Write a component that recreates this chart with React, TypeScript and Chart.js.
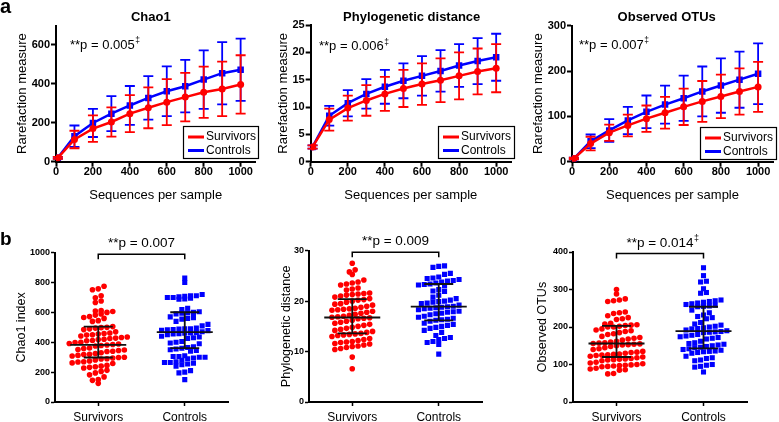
import React, { useEffect, useRef } from 'react';
import { Chart, registerables } from 'chart.js';

Chart.register(...registerables);

const FAMILY = 'Arial, "Liberation Sans", Helvetica, sans-serif';
const RED = '#ff0000';
const BLUE = '#0000ff';

// ---------------- Panel a: rarefaction curves ----------------
const seqPerSample = [10, 100, 200, 300, 400, 500, 600, 700, 800, 900, 1000];
const seriesNames = ['Survivors', 'Controls'];

const chao1SurvMean = [20, 114, 170, 204, 247, 277, 306, 332, 357, 374, 397];
const chao1SurvSD = [5, 45, 68, 75, 95, 105, 118, 125, 132, 140, 150];
const chao1CtrlMean = [20, 131, 199, 247, 289, 328, 362, 388, 422, 455, 473];
const chao1CtrlSD = [5, 55, 72, 90, 100, 112, 128, 135, 150, 160, 160];

const pdSurvMean = [2.7, 7.7, 9.8, 11.2, 12.4, 13.4, 14.2, 14.9, 15.7, 16.5, 17.1];
const pdSurvSD = [0.3, 2.0, 2.3, 2.8, 3.1, 3.4, 3.8, 4.0, 4.3, 4.2, 4.4];
const pdCtrlMean = [2.7, 8.4, 10.7, 12.4, 13.7, 14.8, 15.7, 16.6, 17.6, 18.4, 19.1];
const pdCtrlSD = [0.3, 1.8, 2.4, 2.7, 3.1, 3.2, 3.6, 3.8, 3.9, 4.2, 4.3];

const otuSurvMean = [7, 40, 64, 80, 95, 108, 121, 133, 144, 155, 165];
const otuSurvSD = [2, 15, 18, 24, 29, 35, 40, 45, 48, 51, 55];
const otuCtrlMean = [7, 45, 69, 91, 110, 126, 140, 155, 168, 181, 194];
const otuCtrlSD = [2, 15, 25, 30, 36, 42, 50, 55, 60, 62, 67];

// ---------------- Panel b: individual values ----------------
const groupNames = ['Survivors', 'Controls'];

const chao1Survivors = [
  775, 758, 752, 712, 698, 676, 666,
  612, 610, 606, 600,
  590, 582, 572, 566, 560, 545, 540,
  505, 500, 498, 495, 490, 485,
  470, 462, 458, 455, 450, 448, 442,
  435, 432, 428, 425, 420, 418, 412, 410,
  400, 398, 392, 388, 385, 382, 378, 375,
  362, 358, 352, 348, 345, 340, 338,
  330, 325, 320, 318, 312, 308,
  300, 298, 295, 290, 288, 282,
  275, 270, 268, 262, 258,
  245, 240, 236, 232, 228,
  212, 205, 195,
  182, 168,
  150, 145, 125,
];
const chao1Controls = [
  830, 800,
  720, 712, 705, 700, 695, 688, 690, 700, 708, 712,
  628, 620,
  600, 598, 605, 590, 595,
  570, 560, 555, 565,
  540, 520, 510,
  490, 485, 480, 478, 483, 488, 490, 495,
  465, 460, 455, 450, 458, 462, 470,
  440, 430, 425, 435,
  400, 395, 390, 405,
  370, 360, 355, 350, 365,
  345, 340,
  310, 305, 300, 295, 290, 300, 305,
  280, 270, 265, 260, 255, 250, 265,
  240,
  210, 200, 195,
  150,
];
const chao1Median = [383, 468];
const chao1Q1 = [298, 361];
const chao1Q3 = [505, 601];

const pdSurvivors = [
  27.5, 26.2, 25.8, 25.3, 24.2,
  23.8, 23.6, 23.4, 23.2,
  22.6, 22.4, 22.2,
  21.6, 21.5, 21.4, 21.3, 21.2, 21.0, 20.8,
  20.5, 20.3, 20.2, 20.0,
  19.8, 19.5, 19.4, 19.2, 19.0, 18.8,
  18.6, 18.5, 18.4, 18.3, 18.2, 18.0, 17.8, 17.6,
  17.4, 17.2, 17.0, 16.9, 16.8, 16.7, 16.6, 16.5,
  16.2, 16.0, 15.8, 15.6, 15.4, 15.2, 15.0,
  14.8, 14.6, 14.4, 14.2, 14.0,
  13.8, 13.6, 13.5, 13.4, 13.3, 13.2, 13.0,
  12.6, 12.4, 12.2, 12.0, 11.9,
  11.8, 11.6, 11.5, 11.3, 11.1, 11.0,
  10.8, 10.6, 10.4,
  8.9, 6.6,
];
const pdControls = [
  27.0, 26.9, 26.7, 25.5, 25.3,
  24.8, 24.6, 24.5, 24.3, 24.1, 24.0, 23.8, 23.6, 23.4, 23.3, 23.2, 23.0,
  22.3, 22.0, 21.9,
  21.2, 20.8, 20.5,
  20.2, 20.0, 19.9, 19.8, 19.6, 19.5,
  19.2, 19.0, 18.9, 18.8, 18.7, 18.6, 18.5, 18.3,
  18.0, 17.9, 17.8, 17.6, 17.5, 17.3,
  17.0, 16.8, 16.6, 16.4, 16.3, 16.2, 16.0,
  15.6, 15.4, 15.2, 15.0, 14.8, 14.6,
  14.2, 13.8,
  13.2, 12.8, 12.6, 12.4,
  12.0, 11.8, 11.4,
  9.5,
];
const pdMedian = [16.75, 18.9];
const pdQ1 = [13.6, 16.2];
const pdQ3 = [20.4, 23.4];

const otuSurvivors = [
  300, 288, 275, 272, 270, 268,
  240, 238, 236, 230, 225, 222, 220,
  210, 208, 206, 205, 204, 202, 200, 200,
  195, 192, 190, 188, 185, 182, 180,
  175, 172, 170, 168, 165,
  162, 160, 158, 157, 156, 155, 154, 153, 152, 150,
  148, 145, 142, 140,
  135, 133, 132, 130, 128, 127, 126, 125, 124, 122, 120,
  118, 116, 115, 114, 113, 112, 110,
  106, 104, 102, 100, 99, 98, 97, 96, 95, 94,
  90, 88, 86, 85,
  76, 75,
];
const otuControls = [
  358, 337, 322, 320, 302, 292, 290,
  272, 270, 268, 266, 264, 262, 260, 258, 256, 255, 254,
  245, 238, 232, 228, 225, 222,
  212, 208, 205, 202, 200, 198, 196, 195,
  192, 190, 188, 187, 186, 185,
  180, 178, 176, 174, 172, 170, 168,
  162, 158, 156, 154, 152, 150, 148, 146, 145,
  142, 140, 138, 136, 135, 134, 132, 130,
  122, 118, 116, 112, 110,
  100, 98, 95, 93,
  80,
];
const otuMedian = [156, 189];
const otuQ1 = [120, 143];
const otuQ3 = [203, 254];

// ---------------- helpers ----------------
type TextItem = {
  text: string; x: number; y: number; font: string;
  align?: CanvasTextAlign; baseline?: CanvasTextBaseline; sup?: string; supFont?: string;
};

function textPlugin(id: string, items: TextItem[]) {
  return {
    id,
    afterDraw(chart: any) {
      const ctx: CanvasRenderingContext2D = chart.ctx;
      ctx.save();
      ctx.fillStyle = '#000';
      for (const t of items) {
        ctx.font = t.font;
        ctx.textAlign = t.align || 'left';
        ctx.textBaseline = t.baseline || 'middle';
        ctx.fillText(t.text, t.x, t.y);
        if (t.sup) {
          const w = ctx.measureText(t.text).width;
          const end = t.align === 'center' ? t.x + w / 2 : t.align === 'right' ? t.x : t.x + w;
          ctx.font = t.supFont || t.font;
          ctx.textAlign = 'left';
          ctx.fillText(t.sup, end + 0.5, t.y - 4);
        }
      }
      ctx.restore();
    },
  };
}

function errorBarPlugin(sds: number[][], colors: string[]) {
  return {
    id: 'errorbars',
    beforeDatasetDraw(chart: any, args: any) {
      const i = args.index;
      const meta = args.meta;
      const ys = chart.scales.y;
      const ds = chart.data.datasets[i];
      const ctx: CanvasRenderingContext2D = chart.ctx;
      ctx.save();
      ctx.strokeStyle = colors[i];
      ctx.lineWidth = 1.8;
      const cap = 5;
      meta.data.forEach((pt: any, j: number) => {
        const v = ds.data[j].y;
        const t = ys.getPixelForValue(v + sds[i][j]);
        const b = ys.getPixelForValue(v - sds[i][j]);
        ctx.beginPath();
        ctx.moveTo(pt.x, t); ctx.lineTo(pt.x, b);
        ctx.moveTo(pt.x - cap, t); ctx.lineTo(pt.x + cap, t);
        ctx.moveTo(pt.x - cap, b); ctx.lineTo(pt.x + cap, b);
        ctx.stroke();
      });
      ctx.restore();
    },
  };
}

function legendPlugin(box: [number, number, number, number]) {
  return {
    id: 'boxlegend',
    afterDatasetsDraw(chart: any) {
      const ctx: CanvasRenderingContext2D = chart.ctx;
      const [bx, by, bw, bh] = box;
      ctx.save();
      ctx.fillStyle = '#fff';
      ctx.fillRect(bx, by, bw, bh);
      ctx.strokeStyle = '#000';
      ctx.lineWidth = 1.2;
      ctx.strokeRect(bx + 0.5, by + 0.5, bw - 1, bh - 1);
      const rows = [by + 11, by + 24.5];
      chart.data.datasets.forEach((ds: any, i: number) => {
        ctx.strokeStyle = ds.borderColor;
        ctx.lineWidth = 3;
        ctx.beginPath();
        ctx.moveTo(bx + 5, rows[i]);
        ctx.lineTo(bx + 21, rows[i]);
        ctx.stroke();
        ctx.fillStyle = '#000';
        ctx.font = `12px ${FAMILY}`;
        ctx.textAlign = 'left';
        ctx.textBaseline = 'middle';
        ctx.fillText(ds.label, bx + 23, rows[i]);
      });
      ctx.restore();
    },
  };
}

function summaryPlugin(median: number[], q1: number[], q3: number[], pText: string, pSup?: string) {
  return {
    id: 'summary',
    afterDatasetsDraw(chart: any) {
      const ctx: CanvasRenderingContext2D = chart.ctx;
      const xs = chart.scales.x;
      const ys = chart.scales.y;
      ctx.save();
      ctx.strokeStyle = '#111';
      ctx.lineWidth = 1.8;
      for (let g = 0; g < median.length; g++) {
        const cx = xs.getPixelForValue(g);
        const ym = ys.getPixelForValue(median[g]);
        const y1 = ys.getPixelForValue(q1[g]);
        const y3 = ys.getPixelForValue(q3[g]);
        ctx.beginPath();
        ctx.moveTo(cx - 28, ym); ctx.lineTo(cx + 28, ym);
        ctx.moveTo(cx - 14.5, y1); ctx.lineTo(cx + 14.5, y1);
        ctx.moveTo(cx - 14.5, y3); ctx.lineTo(cx + 14.5, y3);
        ctx.moveTo(cx, y1); ctx.lineTo(cx, y3);
        ctx.stroke();
      }
      // significance bracket
      const a = xs.getPixelForValue(0);
      const b = xs.getPixelForValue(1);
      const top = chart.chartArea.top + 1.5;
      ctx.strokeStyle = '#000';
      ctx.lineWidth = 1.5;
      ctx.beginPath();
      ctx.moveTo(a, top + 5); ctx.lineTo(a, top); ctx.lineTo(b, top); ctx.lineTo(b, top + 5);
      ctx.stroke();
      ctx.fillStyle = '#000';
      ctx.font = `13.5px ${FAMILY}`;
      ctx.textAlign = 'center';
      ctx.textBaseline = 'middle';
      const mx = (a + b) / 2;
      const ty = chart.chartArea.top - 9;
      ctx.fillText(pText, mx, ty);
      if (pSup) {
        const w = ctx.measureText(pText).width;
        ctx.font = `9px ${FAMILY}`;
        ctx.textAlign = 'left';
        ctx.fillText(pSup, mx + w / 2 + 0.5, ty - 4);
      }
      ctx.restore();
    },
  };
}

// Scatter-plot column layout (points binned into horizontal rows, spread symmetrically)
function rowOffsets(values: number[], pxPerUnit: number, rowH: number, colW: number): number[] {
  const out = new Array(values.length).fill(0);
  const bins = new Map<number, number[]>();
  values.forEach((v, i) => {
    const b = Math.floor((v * pxPerUnit) / rowH);
    if (!bins.has(b)) bins.set(b, []);
    bins.get(b)!.push(i);
  });
  bins.forEach((idx) => {
    idx.sort((a, b) => values[a] - values[b]);
    const n = idx.length;
    idx.forEach((i, k) => {
      out[i] = (k - (n - 1) / 2) * colW;
    });
  });
  return out;
}

const tickFontTop = { family: FAMILY, size: 11, weight: 'bold' as const, lineHeight: 1 };
const tickFontBottom = { family: FAMILY, size: 9, weight: 'bold' as const, lineHeight: 1 };
const plainNumber = (v: any) => String(v);

interface RareCfg {
  title: string; titleX: number;
  pText: string; pX: number; pY: number;
  yMax: number; yStep: number;
  survMean: number[]; survSD: number[]; ctrlMean: number[]; ctrlSD: number[];
  padTop: number; padRight: number; yAxisWidth: number; yTitlePad: number;
  legendBox: [number, number, number, number];
  letter?: boolean;
}

function makeRarefaction(canvas: HTMLCanvasElement, c: RareCfg): Chart {
  const texts: TextItem[] = [
    { text: c.title, x: c.titleX, y: 17, font: `bold 13px ${FAMILY}`, align: 'center' },
    { text: c.pText, x: c.pX, y: c.pY, font: `13px ${FAMILY}`, sup: '\u2021', supFont: `8.5px ${FAMILY}` },
  ];
  if (c.letter) texts.push({ text: 'a', x: 0, y: 12.5, font: `bold 20px ${FAMILY}`, baseline: 'alphabetic' });
  return new Chart(canvas, {
    type: 'line',
    data: {
      datasets: [
        {
          label: seriesNames[0],
          data: seqPerSample.map((x, i) => ({ x, y: c.survMean[i] })),
          borderColor: RED, backgroundColor: RED, borderWidth: 2.5,
          pointStyle: 'circle', pointRadius: 3.5, pointBorderWidth: 0, tension: 0,
        },
        {
          label: seriesNames[1],
          data: seqPerSample.map((x, i) => ({ x, y: c.ctrlMean[i] })),
          borderColor: BLUE, backgroundColor: BLUE, borderWidth: 2.5,
          pointStyle: 'rect', pointRadius: 4.6, pointBorderWidth: 0, tension: 0,
        },
      ],
    },
    options: {
      responsive: false, animation: false, devicePixelRatio: 1,
      layout: { padding: { top: c.padTop, right: c.padRight, bottom: 0, left: 0 } },
      plugins: { legend: { display: false }, tooltip: { enabled: false }, title: { display: false } },
      scales: {
        x: {
          type: 'linear', min: 0, max: 1080,
          afterFit: (s: any) => { s.height = 210 - 161.7; },
          grid: { display: true, drawOnChartArea: false, drawTicks: true, tickLength: 5, tickColor: '#000', tickWidth: 2 },
          border: { display: true, color: '#000', width: 2 },
          ticks: { stepSize: 200, includeBounds: false, font: tickFontTop, color: '#000', padding: 0, maxRotation: 0, autoSkip: false, callback: plainNumber },
          title: { display: true, text: 'Sequences per sample', color: '#000', font: { family: FAMILY, size: 13 }, padding: { top: 0, bottom: 7.2 } },
        },
        y: {
          type: 'linear', min: 0, max: c.yMax,
          afterFit: (s: any) => { s.width = c.yAxisWidth; },
          grid: { display: true, drawOnChartArea: false, drawTicks: true, tickLength: 5, tickColor: '#000', tickWidth: 2 },
          border: { display: true, color: '#000', width: 2 },
          ticks: { stepSize: c.yStep, includeBounds: false, font: tickFontTop, color: '#000', padding: 1, callback: plainNumber },
          title: { display: true, text: 'Rarefaction measure', color: '#000', font: { family: FAMILY, size: 13 }, padding: { top: c.yTitlePad, bottom: 0 } },
        },
      },
    } as any,
    plugins: [errorBarPlugin([c.survSD, c.ctrlSD], [RED, BLUE]), legendPlugin(c.legendBox), textPlugin('texts', texts)],
  });
}

interface DotCfg {
  survivors: number[]; controls: number[];
  median: number[]; q1: number[]; q3: number[];
  yMax: number; yStep: number; yTitle: string;
  padTop: number; padRight: number; yAxisWidth: number; yTitlePad: number;
  pText: string; pSup?: string; letter?: boolean;
}

function makeDots(canvas: HTMLCanvasElement, c: DotCfg): Chart {
  const canvasH = 212;
  const plotBottom = 192;
  const plotH = plotBottom - c.padTop;
  const yPx = plotH / c.yMax;
  const xPxPerUnit = 86.5;
  const sOff = rowOffsets(c.survivors, yPx, 6.5, 5.8);
  const cOff = rowOffsets(c.controls, yPx, 6.5, 5.8);
  const texts: TextItem[] = [];
  if (c.letter) texts.push({ text: 'b', x: 0, y: 35, font: `bold 19px ${FAMILY}`, baseline: 'alphabetic' });
  return new Chart(canvas, {
    type: 'scatter',
    data: {
      datasets: [
        {
          label: groupNames[0],
          data: c.survivors.map((v, i) => ({ x: 0 + sOff[i] / xPxPerUnit, y: v })),
          backgroundColor: RED, borderWidth: 0, pointStyle: 'circle', pointRadius: 2.8,
        },
        {
          label: groupNames[1],
          data: c.controls.map((v, i) => ({ x: 1 + cOff[i] / xPxPerUnit, y: v })),
          backgroundColor: BLUE, borderWidth: 0, pointStyle: 'rect', pointRadius: 3.6,
        },
      ],
    },
    options: {
      responsive: false, animation: false, devicePixelRatio: 1,
      layout: { padding: { top: c.padTop, right: c.padRight, bottom: 0, left: 0 } },
      plugins: { legend: { display: false }, tooltip: { enabled: false } },
      scales: {
        x: {
          type: 'linear', min: -0.5, max: 1.5,
          afterFit: (s: any) => { s.height = canvasH - plotBottom; },
          afterBuildTicks: (s: any) => { s.ticks = [{ value: 0 }, { value: 1 }]; },
          grid: { display: true, drawOnChartArea: false, drawTicks: true, tickLength: 4, tickColor: '#000', tickWidth: 1.5 },
          border: { display: true, color: '#000', width: 2 },
          ticks: {
            font: { family: FAMILY, size: 12 }, color: '#000', padding: 4, maxRotation: 0, autoSkip: false,
            callback: (_v: any, i: number) => groupNames[i],
          },
        },
        y: {
          type: 'linear', min: 0, max: c.yMax,
          afterFit: (s: any) => { s.width = c.yAxisWidth; },
          grid: { display: true, drawOnChartArea: false, drawTicks: true, tickLength: 4, tickColor: '#000', tickWidth: 1.5 },
          border: { display: true, color: '#000', width: 2 },
          ticks: { stepSize: c.yStep, font: tickFontBottom, color: '#000', padding: 1, callback: plainNumber },
          title: { display: true, text: c.yTitle, color: '#000', font: { family: FAMILY, size: 12.5 }, padding: { top: c.yTitlePad, bottom: 0 } },
        },
      },
    } as any,
    plugins: [summaryPlugin(c.median, c.q1, c.q3, c.pText, c.pSup), textPlugin('texts', texts)],
  });
}

function ChartBox(props: { left: number; top: number; width: number; height: number; make: (c: HTMLCanvasElement) => Chart }) {
  const ref = useRef<HTMLCanvasElement>(null);
  useEffect(() => {
    const chart = props.make(ref.current as HTMLCanvasElement);
    return () => chart.destroy();
  }, []);
  return (
    <canvas
      ref={ref}
      width={props.width}
      height={props.height}
      style={{ position: 'absolute', left: props.left, top: props.top, width: props.width, height: props.height }}
    />
  );
}

export default function App() {
  return (
    <div style={{ position: 'fixed', left: 0, top: 0, width: 779, height: 422, background: '#fff', overflow: 'hidden' }}>
      <ChartBox left={0} top={0} width={260} height={210} make={(cv) => makeRarefaction(cv, {
        title: 'Chao1', titleX: 150.8, pText: '**p = 0.005', pX: 70, pY: 45,
        yMax: 700, yStep: 200, survMean: chao1SurvMean, survSD: chao1SurvSD, ctrlMean: chao1CtrlMean, ctrlSD: chao1CtrlSD,
        padTop: 25.5, padRight: 3, yAxisWidth: 56, yTitlePad: 14.2, legendBox: [183, 126, 76, 33], letter: true,
      })} />
      <ChartBox left={260} top={0} width={260} height={210} make={(cv) => makeRarefaction(cv, {
        title: 'Phylogenetic distance', titleX: 151.7, pText: '**p = 0.006', pX: 59, pY: 46.5,
        yMax: 25, yStep: 5, survMean: pdSurvMean, survSD: pdSurvSD, ctrlMean: pdCtrlMean, ctrlSD: pdCtrlSD,
        padTop: 25, padRight: 9, yAxisWidth: 50.7, yTitlePad: 15.2, legendBox: [178, 126, 77, 33],
      })} />
      <ChartBox left={520} top={0} width={259} height={210} make={(cv) => makeRarefaction(cv, {
        title: 'Observed OTUs', titleX: 146.7, pText: '**p = 0.007', pX: 59, pY: 45,
        yMax: 300, yStep: 100, survMean: otuSurvMean, survSD: otuSurvSD, ctrlMean: otuCtrlMean, ctrlSD: otuCtrlSD,
        padTop: 25.7, padRight: 6, yAxisWidth: 52, yTitlePad: 10.2, legendBox: [180, 127, 77, 33],
      })} />
      <ChartBox left={0} top={210} width={260} height={212} make={(cv) => makeDots(cv, {
        survivors: chao1Survivors, controls: chao1Controls, median: chao1Median, q1: chao1Q1, q3: chao1Q3,
        yMax: 1000, yStep: 200, yTitle: 'Chao1 index', padTop: 42.7, padRight: 32, yAxisWidth: 55, yTitlePad: 14.5,
        pText: '**p = 0.007', letter: true,
      })} />
      <ChartBox left={260} top={210} width={260} height={212} make={(cv) => makeDots(cv, {
        survivors: pdSurvivors, controls: pdControls, median: pdMedian, q1: pdQ1, q3: pdQ3,
        yMax: 30, yStep: 10, yTitle: 'Phylogenetic distance', padTop: 40.7, padRight: 38, yAxisWidth: 49, yTitlePad: 19.5,
        pText: '**p = 0.009',
      })} />
      <ChartBox left={520} top={210} width={259} height={212} make={(cv) => makeDots(cv, {
        survivors: otuSurvivors, controls: otuControls, median: otuMedian, q1: otuQ1, q3: otuQ3,
        yMax: 400, yStep: 100, yTitle: 'Observed OTUs', padTop: 42, padRight: 32, yAxisWidth: 53, yTitlePad: 15.5,
        pText: '**p = 0.014', pSup: '\u2021',
      })} />
    </div>
  );
}
